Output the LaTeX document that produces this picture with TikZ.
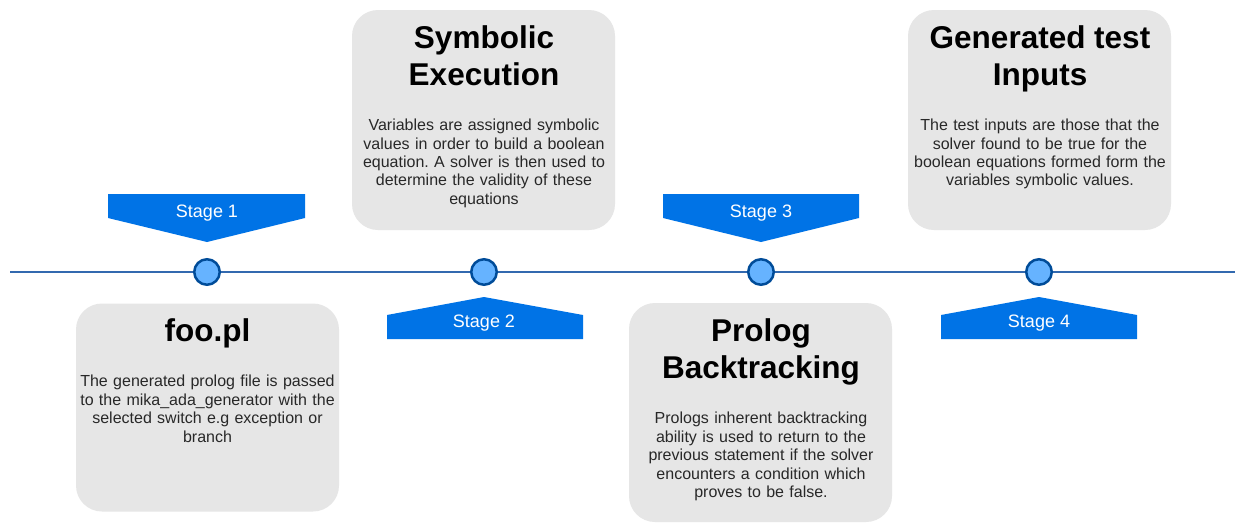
\documentclass[tikz,border=0pt]{standalone}
\usepackage{fontspec}
\setmainfont{Liberation Sans}
\frenchspacing
\definecolor{cardgray}{RGB}{230,230,230}
\definecolor{bodygray}{RGB}{40,40,40}
\definecolor{tagblue}{RGB}{0,115,230}
\definecolor{axisblue}{RGB}{50,105,175}
\definecolor{dotfill}{RGB}{102,179,255}
\definecolor{dotline}{RGB}{0,76,153}
\begin{document}
\begin{tikzpicture}[x=1pt,y=-1pt,
  card/.style={fill=cardgray, draw=none, rounded corners=26pt, inner sep=0,
               minimum width=263pt},
  title/.style={font=\fontsize{31.5}{37}\selectfont\bfseries, align=center,
                anchor=north, inner sep=0},
  body/.style={font=\fontsize{16}{18.4}\selectfont, text=bodygray,
               align=center, text width=262pt, anchor=north, inner sep=0},
  milestone/.style={circle, fill=dotfill, draw=dotline, line width=2.5pt,
                    minimum size=25.5pt, inner sep=0},
  tag/.style={fill=tagblue},
  tagtext/.style={text=white, font=\fontsize{18}{18}\selectfont, inner sep=0}]

\useasboundingbox (0,0) rectangle (1235,523);
\fill[white] (0,0) rectangle (1235,523);

% cards
\node[card, minimum height=208pt] (c1) at (207.5,407.5) {};
\node[card, minimum height=220pt] (c2) at (483.5,120) {};
\node[card, minimum height=219pt] (c3) at (760.5,412.5) {};
\node[card, minimum height=220pt] (c4) at (1039.5,120) {};

% card titles
\node[title] (t1) at (207.5,318.5) {foo.pl};
\node[title] (t2) at (484,25.5) {Symbolic\\Execution};
\node[title] (t3) at (761,318.5) {Prolog\\Backtracking};
\node[title] (t4) at (1040,25.5) {Generated test\\Inputs};

% card texts
\node[body] (b1) at (207.5,375) {The generated prolog file is passed\\
  to the mika\_ada\_generator with the\\selected switch e.g exception or\\branch};
\node[body] (b2) at (484,119) {Variables are assigned symbolic\\
  values in order to build a boolean\\equation. A solver is then used to\\
  determine the validity of these\\equations};
\node[body] (b3) at (761,412) {Prologs inherent backtracking\\
  ability is used to return to the\\previous statement if the solver\\
  encounters a condition which\\proves to be false.};
\node[body] (b4) at (1040,119) {The test inputs are those that the\\
  solver found to be true for the\\boolean equations formed form the\\
  variables symbolic values.};

% stage tags
\fill[tag] (108,194) -- (305,194) -- (305,218) -- (207,242) -- (108,218) -- cycle;
\fill[tag] (387,339) -- (583,339) -- (583,315) -- (484,297) -- (387,315) -- cycle;
\fill[tag] (663,194) -- (859,194) -- (859,218) -- (761,242) -- (663,218) -- cycle;
\fill[tag] (941,339) -- (1137,339) -- (1137,315) -- (1039,297) -- (941,315) -- cycle;
\node[tagtext] (s1) at (207,213) {Stage 1};
\node[tagtext] (s2) at (484,323) {Stage 2};
\node[tagtext] (s3) at (761,213) {Stage 3};
\node[tagtext] (s4) at (1039,323) {Stage 4};

% timeline
\coordinate (start) at (10,272);
\coordinate (end) at (1235,272);
\draw[axisblue, line width=2.5pt] (start) -- (end);
\node[milestone] (m1) at (207,272) {};
\node[milestone] (m2) at (484,272) {};
\node[milestone] (m3) at (761,272) {};
\node[milestone] (m4) at (1039,272) {};
\end{tikzpicture}
\end{document}
